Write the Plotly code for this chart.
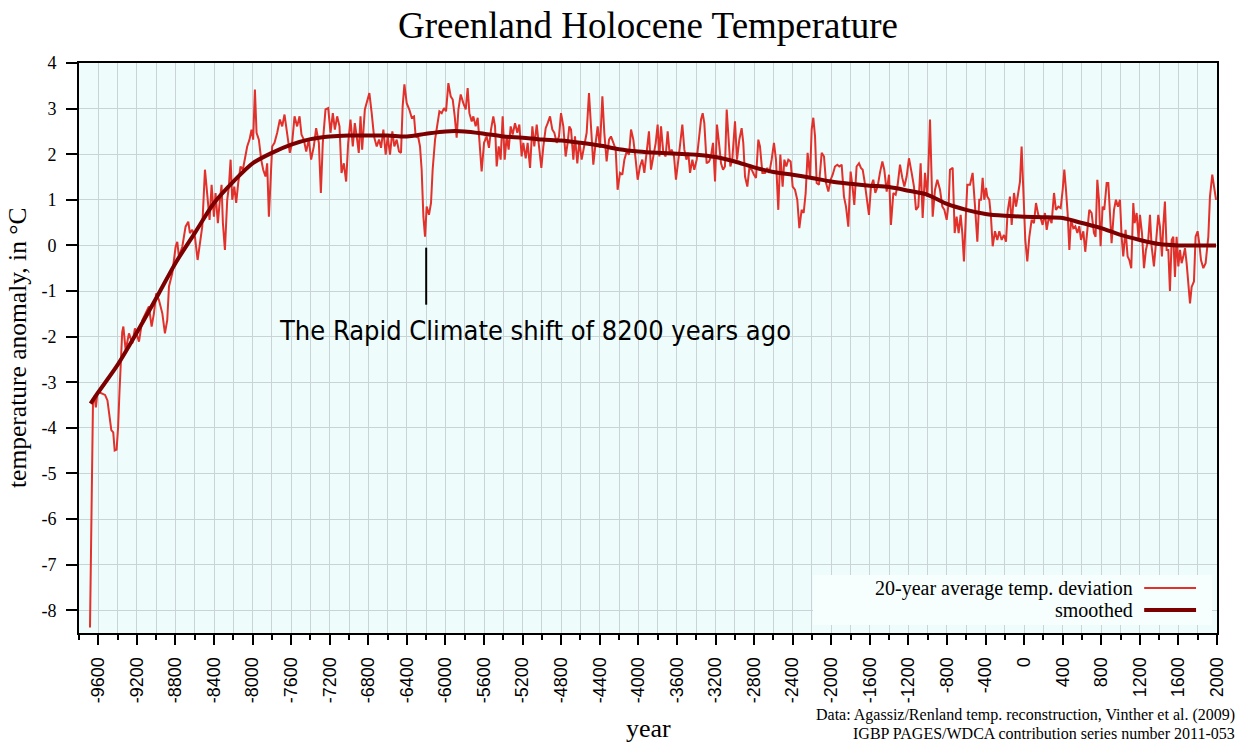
import plotly.graph_objects as go

# ---------------- data ----------------
# 20-year average temperature deviation, split in four eras
yr_a = [-9686, -9668, -9655, -9640, -9625, -9610, -9590, -9560, -9530, -9505,
        -9485, -9465, -9445, -9430, -9410, -9395, -9380, -9368, -9352, -9340,
        -9316, -9282, -9247, -9220, -9178, -9144, -9109, -9075, -9047, -9023,
        -8999, -8971, -8936, -8909, -8885, -8867, -8833, -8798, -8781, -8764,
        -8729, -8695, -8667, -8650, -8626, -8598, -8570, -8550, -8522, -8494,
        -8470, -8446, -8425, -8401, -8384, -8360, -8342, -8322, -8308, -8287,
        -8263, -8246, -8228, -8211, -8190, -8170, -8149, -8125, -8101, -8073,
        -8056, -8032, -8011, -7994, -7976, -7959, -7935, -7911, -7890, -7866,
        -7849, -7831, -7814, -7797, -7773, -7745, -7717, -7693, -7669, -7641,
        -7614, -7590, -7565, -7538, -7513, -7493, -7469, -7444, -7417, -7393,
        -7365, -7341, -7313, -7292, -7272, -7244, -7216, -7192, -7168, -7147,
        -7123, -7099, -7078, -7054, -7030, -7009, -6985, -6961, -6940, -6916,
        -6899, -6881, -6864, -6836, -6817, -6789, -6765]
t_a = [-8.38, -4.8, -3.45, -3.3, -3.55, -3.25, -3.22, -3.25, -3.28, -3.4,
       -3.75, -4.05, -4.1, -4.5, -4.48, -4.0, -3.2, -2.52, -1.9, -1.78,
       -2.3, -1.93, -2.15, -1.82, -2.11, -1.64, -1.49, -1.34, -1.78, -1.49,
       -1.05, -1.2, -1.49, -1.93, -1.64, -0.9, -0.61, -0.03, 0.08, -0.25,
       -0.03, 0.41, 0.52, 0.27, 0.34, 0.19, -0.32, -0.03, 0.41, 1.66,
       1.07, 0.56, 1.33, 0.63, 1.15, 0.49, 0.93, 1.33, 0.49, -0.1,
       1.0, 1.29, 1.88, 1.0, 1.29, 0.93, 1.37, 1.73, 1.66, 1.95,
       2.17, 2.32, 2.54, 2.32, 3.42, 2.47, 2.32, 1.88, 1.66, 1.51,
       1.8, 0.63, 1.51, 2.17, 2.25, 2.47, 2.76, 2.61, 2.87, 2.39,
       2.03, 2.25, 2.83, 2.61, 2.83, 2.43, 2.32, 2.06, 2.32, 1.88,
       2.17, 2.57, 2.25, 1.15, 2.25, 2.98, 3.01, 2.47, 2.9, 2.54,
       2.83, 2.61, 1.59, 1.8, 1.4, 2.25, 2.76, 2.17, 2.68, 2.32,
       2.03, 2.83, 2.1, 2.98, 3.12, 3.34, 2.9]

yr_b = [-6741, -6713, -6689, -6668, -6644, -6620, -6599, -6575, -6551, -6530,
        -6506, -6482, -6461, -6444, -6426, -6402, -6375, -6350, -6326, -6309,
        -6281, -6264, -6247, -6229, -6212, -6195, -6171, -6150, -6133, -6108,
        -6084, -6063, -6039, -6015, -5994, -5970, -5946, -5925, -5904, -5884,
        -5866, -5842, -5815, -5790, -5770, -5752, -5728, -5711, -5687, -5666,
        -5649, -5625, -5600, -5573, -5549, -5528, -5504, -5486, -5469, -5448,
        -5428, -5407, -5386, -5365, -5345, -5324, -5303, -5279, -5255, -5234,
        -5210, -5193, -5168, -5148, -5123, -5099, -5079, -5054, -5030, -5006,
        -4985, -4961, -4940, -4916, -4892, -4871, -4847, -4823, -4802, -4778,
        -4754, -4733, -4716, -4698, -4674, -4657, -4633, -4612, -4588, -4564,
        -4536, -4512, -4491, -4467, -4443, -4422, -4398, -4373, -4353, -4329,
        -4304, -4284, -4259, -4235, -4215, -4190, -4166, -4145, -4121, -4097,
        -4076, -4052, -4028, -4007, -3983, -3959, -3938, -3914, -3890]
t_b = [2.39, 2.17, 2.32, 2.14, 2.54, 1.99, 2.39, 1.99, 2.5, 2.17,
       2.32, 2.06, 2.03, 3.05, 3.53, 3.12, 2.98, 2.8, 2.83, 2.39,
       2.36, 2.17, 1.66, 0.63, 0.19, 0.85, 0.67, 0.93, 1.66, 2.32,
       2.68, 2.94, 2.9, 3.01, 2.94, 3.56, 3.27, 3.2, 2.83, 2.36,
       2.98, 3.31, 3.12, 2.98, 3.45, 2.9, 2.72, 2.83, 2.61, 2.8,
       2.32, 1.62, 2.25, 2.39, 2.14, 2.54, 2.83, 2.61, 1.73, 2.17,
       1.88, 2.83, 1.88, 2.39, 2.1, 2.61, 2.43, 2.68, 2.47, 2.65,
       1.95, 2.25, 1.91, 2.25, 1.7, 2.61, 2.17, 2.65, 2.17, 1.7,
       2.17, 2.57, 2.68, 2.83, 2.54, 2.47, 2.25, 2.39, 2.9, 2.61,
       1.95, 2.25, 2.61, 2.54, 1.88, 2.39, 1.8, 2.28, 1.88, 2.14,
       2.47, 3.34, 2.61, 1.77, 2.25, 2.61, 2.14, 3.27, 2.47, 1.84,
       2.32, 2.39, 2.25, 2.1, 1.22, 1.59, 1.55, 1.88, 2.06, 1.99,
       2.54, 2.32, 1.88, 1.44, 1.73, 1.88, 1.59, 2.03, 2.5]

yr_c = [-3869, -3845, -3820, -3800, -3782, -3765, -3741, -3717, -3696, -3675,
        -3655, -3630, -3610, -3585, -3565, -3544, -3523, -3502, -3482, -3464,
        -3440, -3420, -3395, -3371, -3350, -3333, -3316, -3292, -3267, -3247,
        -3226, -3205, -3185, -3164, -3143, -3122, -3102, -3084, -3067, -3046,
        -3026, -2998, -2977, -2953, -2929, -2912, -2894, -2870, -2849, -2825,
        -2801, -2780, -2756, -2739, -2714, -2687, -2663, -2642, -2618, -2594,
        -2573, -2549, -2528, -2504, -2486, -2466, -2445, -2421, -2400, -2376,
        -2352, -2331, -2307, -2286, -2265, -2245, -2220, -2203, -2186, -2168,
        -2151, -2127, -2099, -2075, -2054, -2030, -2006, -1985, -1961, -1937,
        -1916, -1892, -1868, -1847, -1823, -1799, -1778, -1761, -1737, -1712,
        -1692, -1674, -1657, -1633, -1609, -1588, -1564, -1543, -1519, -1495,
        -1470, -1450, -1425, -1401, -1381, -1356, -1332, -1311, -1287, -1263,
        -1242, -1218, -1194, -1166, -1142, -1121, -1097, -1073, -1052, -1028,
        -1004, -987, -976]
t_c = [1.66, 1.95, 2.25, 2.65, 1.95, 2.61, 2.03, 1.95, 2.5, 1.99,
       2.1, 1.95, 1.44, 1.88, 2.25, 2.65, 2.1, 1.88, 2.03, 1.59,
       1.88, 1.66, 1.88, 2.32, 2.76, 2.9, 2.68, 1.8, 1.84, 1.95,
       2.25, 1.4, 2.65, 2.25, 1.8, 1.66, 1.73, 2.98, 2.32, 1.73,
       1.88, 2.72, 1.88, 2.32, 2.57, 2.25, 1.51, 1.29, 1.7, 1.66,
       1.55, 1.48, 2.32, 2.17, 1.59, 1.59, 1.7, 1.59, 1.88, 2.25,
       1.88, 0.78, 1.99, 1.29, 1.88, 1.73, 1.88, 1.84, 1.29, 1.22,
       1.0, 0.38, 0.78, 0.71, 1.15, 2.03, 1.51, 2.54, 2.8, 2.39,
       1.37, 1.33, 2.03, 1.95, 1.37, 1.18, 1.44, 1.55, 1.73, 1.77,
       1.73, 1.77, 1.07, 0.85, 0.41, 1.62, 1.26, 0.89, 1.73, 1.8,
       1.7, 1.66, 1.44, 1.0, 0.67, 1.29, 1.44, 1.15, 1.29, 1.59,
       1.84, 1.66, 1.18, 1.55, 0.45, 1.15, 1.11, 1.33, 1.77, 1.48,
       1.29, 1.51, 1.91, 1.59, 1.29, 0.78, 0.85, 1.8, 0.6, 1.59,
       1.07, 2.03, 2.76]

yr_d = [-948, -924, -900, -872, -848, -827, -803, -782, -769, -741,
        -720, -700, -679, -658, -641, -624, -603, -589, -561, -534,
        -509, -485, -465, -447, -430, -413, -395, -382, -361, -344,
        -326, -302, -278, -257, -233, -209, -188, -171, -147, -129,
        -105, -84, -64, -43, -26, -8, 12, 33, 54, 78,
        102, 123, 147, 171, 192, 216, 234, 258, 285, 310,
        330, 355, 379, 400, 417, 434, 451, 469, 486, 510,
        531, 552, 572, 590, 614, 634, 655, 676, 700, 724,
        741, 759, 776, 793, 814, 831, 856, 873, 890, 907,
        932, 952, 973, 994, 1011, 1028, 1052, 1073, 1091, 1111,
        1132, 1146, 1167, 1187, 1201, 1222, 1243, 1263, 1287, 1305,
        1322, 1346, 1367, 1391, 1408, 1429, 1443, 1460, 1478, 1495,
        1512, 1530, 1547, 1564, 1581, 1599, 1616, 1633, 1651, 1668,
        1685, 1702, 1720, 1737, 1761, 1778, 1799, 1816, 1834, 1858,
        1882, 1910, 1927, 1951, 1972, 1990]
t_d = [0.63, 1.22, 1.44, 1.22, 0.85, 0.78, 0.56, 0.93, 1.66, 1.7,
       0.27, 0.63, 0.27, 0.67, 0.27, -0.35, 0.71, 1.33, 1.33, 1.59,
       0.85, 0.08, 1.0, 1.0, 1.48, 1.0, 1.26, 1.07, 1.0, 0.63,
       -0.02, 0.31, 0.12, 0.31, 0.12, 0.23, 0.08, 0.74, 1.07, 0.45,
       1.15, 0.85, 1.11, 1.4, 2.17, 1.22, 0.12, -0.35, 0.19, 0.56,
       0.49, 0.93, 0.67, 0.6, 0.45, 0.71, 0.34, 0.63, 0.49, 1.15,
       0.78, 0.85, 0.82, 1.22, 1.66, 1.22, 0.71, -0.1, 0.56, 0.38,
       0.42, 0.27, 0.42, 0.12, 0.31, -0.14, 0.31, 0.78, 0.71, 0.27,
       0.19, 1.44, 1.0, -0.02, 0.85, 0.78, 1.37, 1.37, 0.71, 0.05,
       0.78, 1.0, 0.85, 1.0, 0.19, -0.24, 0.34, -0.24, -0.32, -0.5,
       0.93, 0.49, 0.71, 0.12, 0.67, 0.27, -0.5, -0.1, 0.12, 0.67,
       -0.02, -0.46, 0.05, 0.67, 0.42, -0.24, 0.42, 0.96, -0.1, -0.1,
       -1.0, 0.12, 0.19, -0.69, 0.19, -0.46, -0.1, -0.39, -0.24, -0.06,
       -0.39, -0.91, -1.27, -0.91, -0.79, 0.19, 0.31, 0.05, -0.32, -0.5,
       -0.39, 0.19, 1.07, 1.55, 1.22, 1.0]

# smoothed curve
yr_smooth = [-9680, -9600, -9400, -9200, -9000, -8800, -8600, -8400, -8200, -8000,
             -7800, -7600, -7400, -7200, -7000, -6800, -6600, -6400, -6200, -6000,
             -5800, -5600, -5400, -5200, -5000, -4800, -4600, -4400, -4200, -4000,
             -3800, -3600, -3400, -3200, -3000, -2800, -2600, -2400, -2200, -2000,
             -1800, -1600, -1400, -1200, -1000, -800, -600, -400, -200, 0,
             200, 400, 600, 800, 1000, 1200, 1400, 1600, 1800, 1990]
t_smooth = [-3.47, -3.22, -2.62, -1.91, -1.16, -0.39, 0.27, 0.93, 1.40, 1.80,
            2.03, 2.21, 2.33, 2.39, 2.41, 2.41, 2.41, 2.39, 2.45, 2.50,
            2.50, 2.45, 2.39, 2.36, 2.32, 2.30, 2.25, 2.19, 2.11, 2.06,
            2.03, 2.01, 1.99, 1.94, 1.84, 1.71, 1.61, 1.55, 1.48, 1.40,
            1.35, 1.31, 1.28, 1.20, 1.11, 0.91, 0.78, 0.69, 0.65, 0.63,
            0.62, 0.60, 0.49, 0.38, 0.23, 0.12, 0.03, 0.00, 0.00, 0.00]

x_tick_vals = [-9600, -9200, -8800, -8400, -8000, -7600, -7200, -6800, -6400, -6000,
               -5600, -5200, -4800, -4400, -4000, -3600, -3200, -2800, -2400, -2000,
               -1600, -1200, -800, -400, 0, 400, 800, 1200, 1600, 2000]
x_tick_text = ["-9600", "-9200", "-8800", "-8400", "-8000", "-7600", "-7200", "-6800",
               "-6400", "-6000", "-5600", "-5200", "-4800", "-4400", "-4000", "-3600",
               "-3200", "-2800", "-2400", "-2000", "-1600", "-1200", "-800", "-400",
               "0", "400", "800", "1200", "1600", "2000"]
y_tick_vals = [-8, -7, -6, -5, -4, -3, -2, -1, 0, 1, 2, 3, 4]
y_tick_text = ["-8", "-7", "-6", "-5", "-4", "-3", "-2", "-1", "0", "1", "2", "3", "4"]

event_year = -6200
event_line_y = (-0.05, -1.3)
event_label = "The Rapid Climate shift of 8200 years ago"
event_label_pos = (-5072, -1.86)

for a, b in ((yr_a, t_a), (yr_b, t_b), (yr_c, t_c), (yr_d, t_d), (yr_smooth, t_smooth)):
    if len(a) != len(b):
        raise ValueError(f"length mismatch {len(a)} vs {len(b)}")

years = yr_a + yr_b + yr_c + yr_d
temps = t_a + t_b + t_c + t_d

RED = "#e2302b"
DARK = "#7d0000"
GRID = "#c9d4d7"
SERIF = "Liberation Serif, Times New Roman, serif"

fig = go.Figure()
fig.add_trace(go.Scatter(x=years, y=temps, mode="lines",
                         line=dict(color=RED, width=2), showlegend=False,
                         name="20-year average temp. deviation"))
fig.add_trace(go.Scatter(x=yr_smooth, y=t_smooth, mode="lines",
                         line=dict(color=DARK, width=4, shape="spline", smoothing=0.8),
                         showlegend=False, name="smoothed"))

minor_vals = list(range(-9800, 2001, 200))

fig.update_layout(
    width=1243, height=743,
    margin=dict(l=79, r=26, t=63, b=110),
    paper_bgcolor="white",
    plot_bgcolor="#effcfc",
    title=dict(text="Greenland Holocene Temperature",
               font=dict(family=SERIF, size=37, color="black"),
               x=0.5, xref="paper", xanchor="center",
               y=1 - 25 / 743, yref="container", yanchor="middle"),
    xaxis=dict(range=[-9800, 2000], tickmode="array", tickvals=x_tick_vals,
               ticktext=x_tick_text, tickangle=-90, ticks="outside", ticklen=10,
               tickwidth=1.5, tickcolor="black", ticklabelstandoff=5,
               tickfont=dict(family="Liberation Sans, Arial, sans-serif", size=18, color="black"),
               showline=True, linecolor="black", linewidth=2, mirror=True,
               showgrid=True, gridcolor=GRID, gridwidth=1, zeroline=False,
               minor=dict(tickmode="array", tickvals=minor_vals, ticks="outside",
                          ticklen=5, tickwidth=1.5, tickcolor="black",
                          showgrid=True, gridcolor=GRID, gridwidth=1)),
    yaxis=dict(range=[-8.5, 4], tickmode="array", tickvals=y_tick_vals,
               ticktext=y_tick_text, ticks="outside", ticklen=11, tickwidth=1.5,
               tickcolor="black", ticklabelstandoff=6,
               tickfont=dict(family=SERIF, size=18, color="black"),
               showline=True, linecolor="black", linewidth=2, mirror=True,
               showgrid=True, gridcolor=GRID, gridwidth=1, zeroline=False),
)

# legend (drawn manually: label on the left, sample line on the right)
fig.add_shape(type="rect", xref="paper", yref="paper", x0=0.645, x1=0.9956,
              y0=0.014, y1=0.1018, fillcolor="#f6fefe", line=dict(width=0), layer="above")
fig.add_shape(type="line", xref="paper", yref="paper", x0=0.936, x1=0.9816,
              y0=0.0789, y1=0.0789, line=dict(color=RED, width=2))
fig.add_shape(type="line", xref="paper", yref="paper", x0=0.936, x1=0.9816,
              y0=0.0404, y1=0.0404, line=dict(color=DARK, width=4))
fig.add_annotation(text="20-year average temp. deviation", xref="paper", yref="paper",
                   x=0.928, y=0.0789, xanchor="right", yanchor="middle", showarrow=False,
                   font=dict(family=SERIF, size=20, color="black"))
fig.add_annotation(text="smoothed", xref="paper", yref="paper",
                   x=0.928, y=0.0404, xanchor="right", yanchor="middle", showarrow=False,
                   font=dict(family=SERIF, size=20, color="black"))

# event marker
fig.add_shape(type="line", xref="x", yref="y", x0=event_year, x1=event_year,
              y0=event_line_y[0], y1=event_line_y[1], line=dict(color="black", width=2))
fig.add_annotation(text=event_label, xref="x", yref="y", x=event_label_pos[0],
                   y=event_label_pos[1], showarrow=False, xanchor="center", yanchor="middle",
                   font=dict(family="Liberation Sans Narrow, DejaVu Sans Condensed, Arial Narrow, sans-serif",
                             size=27, color="black"))

# axis titles
fig.add_annotation(text="temperature anomaly, in °C", xref="paper", yref="paper",
                   x=-0.0545, y=0.5, textangle=-90, showarrow=False,
                   xanchor="center", yanchor="middle",
                   font=dict(family=SERIF, size=25.5, color="black"))
fig.add_annotation(text="year", xref="paper", yref="paper", x=0.5, y=-0.1667,
                   showarrow=False, xanchor="center", yanchor="middle",
                   font=dict(family=SERIF, size=26, color="black"))
# source note (two lines)
fig.add_annotation(text="Data: Agassiz/Renland temp. reconstruction, Vinther et al. (2009)",
                   xref="paper", yref="paper", x=1.0176, y=-0.1447, showarrow=False,
                   xanchor="right", yanchor="middle",
                   font=dict(family=SERIF, size=16, color="black"))
fig.add_annotation(text="IGBP PAGES/WDCA contribution series number 2011-053",
                   xref="paper", yref="paper", x=1.0176, y=-0.1763, showarrow=False,
                   xanchor="right", yanchor="middle",
                   font=dict(family=SERIF, size=16, color="black"))

fig.write_html("out.html",
               config={"displayModeBar": False},
               post_script="document.body.style.margin='0';"
                           "document.body.style.overflow='hidden';")
